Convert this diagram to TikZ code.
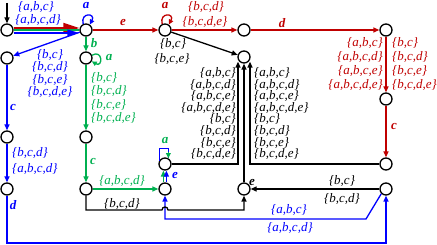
\documentclass[tikz,border=0pt]{standalone}
\usepackage{fontspec}
\setmainfont{Liberation Serif}
\usetikzlibrary{arrows.meta}
\definecolor{cred}{RGB}{192,0,0}
\definecolor{cblue}{RGB}{0,0,255}
\definecolor{cgreen}{RGB}{0,176,80}
\begin{document}
\begin{tikzpicture}[x=1pt,y=-1pt,
 st/.style={circle,draw,fill=white,minimum size=12pt,inner sep=0pt,line width=1.3pt},
 ln/.style={line width=1.3pt},
 arr/.style={ln,-{Triangle[length=6pt,width=5pt]}},
 sarr/.style={ln,-{Triangle[length=5pt,width=4.5pt]}},
 lbl/.style={inner sep=0pt,font=\fontsize{13}{13}\selectfont\itshape},
 ltr/.style={inner sep=0pt,font=\fontsize{13}{13}\selectfont\bfseries\itshape},
 ml/.style={inner sep=0pt,font=\fontsize{13}{#1}\selectfont\itshape},
 ]
\useasboundingbox (0,0) rectangle (437,245);
% states
\node[st] (N1) at (7,30) {};
\node[st] (N2) at (86,30) {};
\node[st] (N3) at (7,58) {};
\node[st] (N4) at (86,58) {};
\node[st] (N5) at (7,137) {};
\node[st] (N6) at (86,137) {};
\node[st] (N7) at (7,189) {};
\node[st] (N8) at (86,189) {};
\node[st] (N9) at (165,30) {};
\node[st] (N10) at (244,30) {};
\node[st] (N11) at (244,57) {};
\node[st] (N12) at (165,164) {};
\node[st] (N13) at (165,189) {};
\node[st] (N14) at (244,189) {};
\node[st] (N15) at (386,30) {};
\node[st] (N16) at (386,99) {};
\node[st] (N17) at (386,164) {};
\node[st] (N18) at (386,189) {};
\coordinate (init) at (7,3);
% initial
\draw[arr] (init) -- (N1);
% triple arrow N1 -> N2
\draw[cred,line width=2pt,-{Triangle[length=16pt,width=10pt]}] ([yshift=2pt]N1.east) -- ([yshift=2pt]N2.west);
\draw[cgreen,line width=1.7pt] (N1.east) -- (N2.west);
\draw[cblue,line width=2.4pt,-{Triangle[length=12pt,width=6pt]}] ([yshift=-2.8pt]N1.east) -- ([yshift=-2.8pt]N2.west);
% self loops
\draw[cblue,sarr] (N2.115) .. controls (80,12) and (96,13) .. (N2.55);
\draw[cred,sarr] (N9.115) .. controls (159,12) and (175,13) .. (N9.55);
\draw[cgreen,sarr] (N4.25) .. controls (103,49) and (103,68) .. (N4.-30);
\draw[cblue,ln] (N12.150) |- ([yshift=10pt]N12.60) -- (N12.60);
\draw[cgreen,sarr] ([yshift=6pt]N12.60) -- (N12.60);
% red
\draw[cred,arr] (N2) -- (N9);
\draw[cred,arr] (N9) -- (N10);
\draw[cred,arr] (N10) -- (N15);
\draw[cred,arr] (N15) -- (N16);
\draw[cred,arr] (N16) -- (N17);
% blue
\draw[cblue,arr] (N2) -- (N3);
\draw[cblue,arr] (N3) -- (N5);
\draw[cblue,arr] (N5) -- (N7);
\draw[cblue,arr] (N7.south) -- (7,243) -| (N18.south);
\draw[cblue,arr] (N18.225) -- (366,219) -| (N13.south);
% green
\draw[cgreen,arr] (N2) -- (N4);
\draw[cgreen,arr] (N4) -- (N6);
\draw[cgreen,arr] (N6) -- (N8);
\draw[cgreen,arr] (N8) -- (N13);
\draw[cgreen,arr] ([xshift=-1.6pt]N13.north) -- ([xshift=-1.6pt]N12.south);
\draw[cblue,arr] ([xshift=1.4pt]N13.north) -- ([xshift=1.4pt]N12.south);
% black
\draw[arr] (N9) -- (N11);
\draw[arr] (N12.east) -| ([xshift=-6pt,yshift=2pt]N11.south);
\draw[arr] (N17.west) -| ([xshift=6pt,yshift=2pt]N11.south);
\draw[arr] (N14) -- (N11);
\draw[arr] (N18) -- (N14);
\draw[arr] (N8.south) |- (162,210) .. controls (162,206) and (168,206) .. (168,210) -| (N14.south);
% labels top
\node[lbl,text=cblue] (t1) at (36,6.5) {\{a,b,c\}};
\node[lbl,text=cblue] (t2) at (38,19.5) {\{a,b,c,d\}};
\node[ltr,text=cblue] (t3) at (86,6) {a};
\node[ltr,text=cred] (t4) at (123,23) {e};
\node[ltr,text=cred] (t5) at (165,6) {a};
\node[lbl,text=cred] (t6) at (206,7) {\{b,c,d\}};
\node[lbl,text=cred] (t7) at (205,22) {\{b,c,d,e\}};
\node[ltr,text=cred] (t8) at (282,23) {d};
\node[lbl] (t9) at (173,43.5) {\{b,c\}};
\node[lbl] (t10) at (172,58.5) {\{b,c,e\}};
\node[ltr,text=cgreen] (t11) at (94,43) {b};
\node[ltr,text=cgreen] (t12) at (109,58) {a};
\node[ml=12.3,align=center,text=cblue] (t13) at (50,73.5) {\{b,c\}\\\{b,c,d\}\\\{b,c,e\}\\\{b,c,d,e\}};
\node[ml=13.3,align=left,anchor=west,text=cgreen] (t14) at (91,98) {\{b,c\}\\\{b,c,d\}\\\{b,c,e\}\\\{b,c,d,e\}};
\node[ltr,text=cblue] (t15) at (13,108) {c};
\node[ml=11.6,align=right,anchor=east] (t16) at (236,113.5) {\{a,b,c\}\\\{a,b,c,d\}\\\{a,b,c,e\}\\\{a,b,c,d,e\}\\\{b,c\}\\\{b,c,d\}\\\{b,c,e\}\\\{b,c,d,e\}};
\node[ml=11.6,align=left,anchor=west] (t17) at (254,113.5) {\{a,b,c\}\\\{a,b,c,d\}\\\{a,b,c,e\}\\\{a,b,c,d,e\}\\\{b,c\}\\\{b,c,d\}\\\{b,c,e\}\\\{b,c,d,e\}};
\node[ml=13.9,align=right,anchor=east,text=cred] (t18) at (383,64) {\{a,b,c\}\\\{a,b,c,d\}\\\{a,b,c,e\}\\\{a,b,c,d,e\}};
\node[ml=13.9,align=left,anchor=west,text=cred] (t19) at (392,64) {\{b,c\}\\\{b,c,d\}\\\{b,c,e\}\\\{b,c,d,e\}};
\node[ltr,text=cred] (t20) at (394,127) {c};
\node[ltr,text=cgreen] (t21) at (165,141) {a};
\node[lbl,anchor=west,text=cblue] (t22) at (12,153) {\{b,c,d\}};
\node[lbl,anchor=west,text=cblue] (t23) at (12,169) {\{a,b,c,d\}};
\node[ltr,text=cgreen] (t24) at (93,162) {c};
\node[ltr,text=cblue] (t25) at (175,176) {e};
\node[lbl,text=cgreen] (t26) at (122,181) {\{a,b,c,d\}};
\node[ltr] (t27) at (252,183) {e};
\node[lbl] (t28) at (342,181) {\{b,c\}};
\node[lbl] (t29) at (342,199) {\{b,c,d\}};
\node[lbl] (t30) at (122,204) {\{b,c,d\}};
\node[ltr,text=cblue] (t31) at (13,205) {d};
\node[lbl,text=cblue] (t32) at (289,210) {\{a,b,c\}};
\node[lbl,text=cblue] (t33) at (290,228) {\{a,b,c,d\}};
\end{tikzpicture}
\end{document}
